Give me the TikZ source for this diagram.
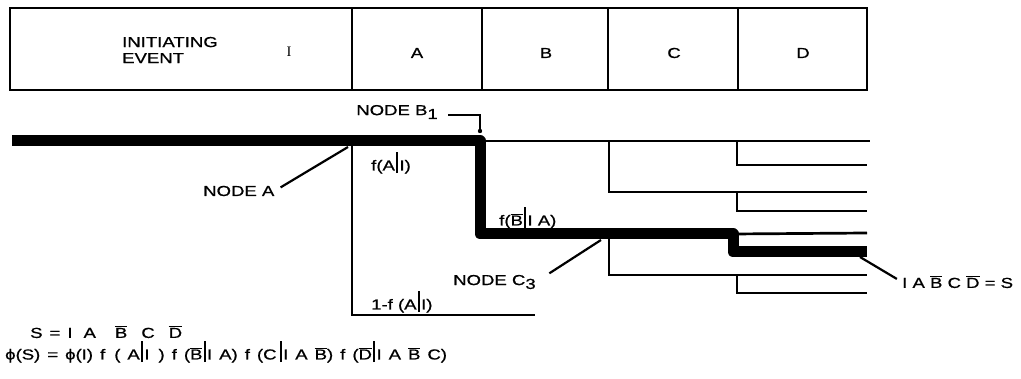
\documentclass[tikz,border=0pt]{standalone}
\usepackage{fontspec}
\setmainfont[FakeStretch=1.28, FakeBold=0.8]{Liberation Sans}
\newfontfamily\seriffont{Liberation Serif}
\newcommand{\ob}[1]{$\overline{\mbox{#1}}$}
\newcommand{\gv}{\hspace{1.2pt}\rule[-0.35ex]{2.2pt}{2.7ex}\hspace{1.2pt}}
\newcommand{\sub}[1]{\raisebox{-0.5ex}{#1}}

\begin{document}
\begin{tikzpicture}[x=1pt, y=-1pt,
  font=\fontsize{14.5}{17}\selectfont,
  frame/.style={line width=2.8pt},
  branch/.style={line width=2.7pt},
  seqpath/.style={line width=11pt, line join=round},
  lead/.style={line width=2.2pt},
  txt/.style={inner sep=0pt, anchor=west}]
  \useasboundingbox (0,0) rectangle (1021,379);

  % event tree heading
  \draw[frame] (10,8) rectangle (867,90);
  \foreach \x in {352,482,608,738}
    \draw[frame] (\x,8) -- (\x,90);
  \node[txt, align=left] (hie) at (122,50) {INITIATING\\[-1pt]EVENT};
  \node (hi) at (289,52) {\seriffont I};
  \node (ha) at (417,53) {A};
  \node (hb) at (546,53) {B};
  \node (hc) at (674,53) {C};
  \node (hd) at (803,53) {D};

  % tree nodes
  \coordinate (i1) at (12,141);
  \coordinate (a) at (352,141);
  \coordinate (b1) at (480,141);
  \coordinate (b2) at (480,234);
  \coordinate (c1) at (609,141);
  \coordinate (c3) at (609,234);
  \coordinate (d1) at (737,141);
  \coordinate (d2) at (737,192);
  \coordinate (d3) at (733,234);
  \coordinate (d3s) at (733,252);
  \coordinate (d4) at (737,275);
  \coordinate (af) at (535,315);
  \foreach \n/\y in {1/141,2/165,3/192,4/211,5/233,6/252,7/275,8/293}
    \coordinate (e\n) at (867,\y);

  \draw[branch] (a) |- (af);
  \draw[branch] (b1) -- ([xshift=3pt]e1);
  \draw[branch] (c1) |- (e3);
  \draw[branch] (d1) |- (e2);
  \draw[branch] (d2) |- (e4);
  \draw[branch] (d3) -- (e5);
  \draw[branch] (c3) |- (e7);
  \draw[branch] (d4) |- (e8);
  \draw[seqpath] (i1) -- (a) -- (b1) -- (b2) -- (d3) -- (d3s) -- (e6);

  % labels
  \node[txt] (fa) at (371,163) {f(A\gv I)};
  \node[txt] (nfa) at (371,302) {1-f (A\gv I)};
  \node[txt] (fb) at (499,218) {f(\ob{B}\gv I A)};
  \node[txt] (la) at (203,191) {NODE A};
  \node[txt, anchor=east] (lb1) at (438,112) {NODE B\sub{1}};
  \node[txt] (lc3) at (453,282) {NODE C\sub{3}};
  \node[txt] (ls) at (902,282) {I A \ob{B} C \ob{D} = S};
  \coordinate (ap) at (348,147);
  \coordinate (bp) at (480,131);
  \coordinate (cp) at (601,240);
  \coordinate (sp) at (860,257);
  \draw[lead, shorten <=7pt] (la.east) -- (ap);
  \draw[lead] ([xshift=10pt,yshift=-3pt]lb1.east) -| (bp);
  \fill (bp) circle (2.2pt);
  \draw[lead, shorten <=16pt] (lc3.east) -- (cp);
  \draw[lead, shorten <=6pt] (ls.west) -- (sp);

  % sequence
  \node[txt] (seq) at (30,332) {\spaceskip=7pt S = I\hspace{4pt} A\hspace{12pt} \ob{B}\hspace{7pt} C\hspace{7pt} \ob{D}};
  \node[txt] (freq) at (5,352) {\spaceskip=7pt ϕ(S) = ϕ(I) f\hspace{2pt} ( A\gv I\hspace{2pt} ) f (\ob{B}\gv I A) f (C\hspace{2pt}\gv I A \ob{B}) f (\ob{D}\gv I A \ob{B} C)};
\end{tikzpicture}
\end{document}
